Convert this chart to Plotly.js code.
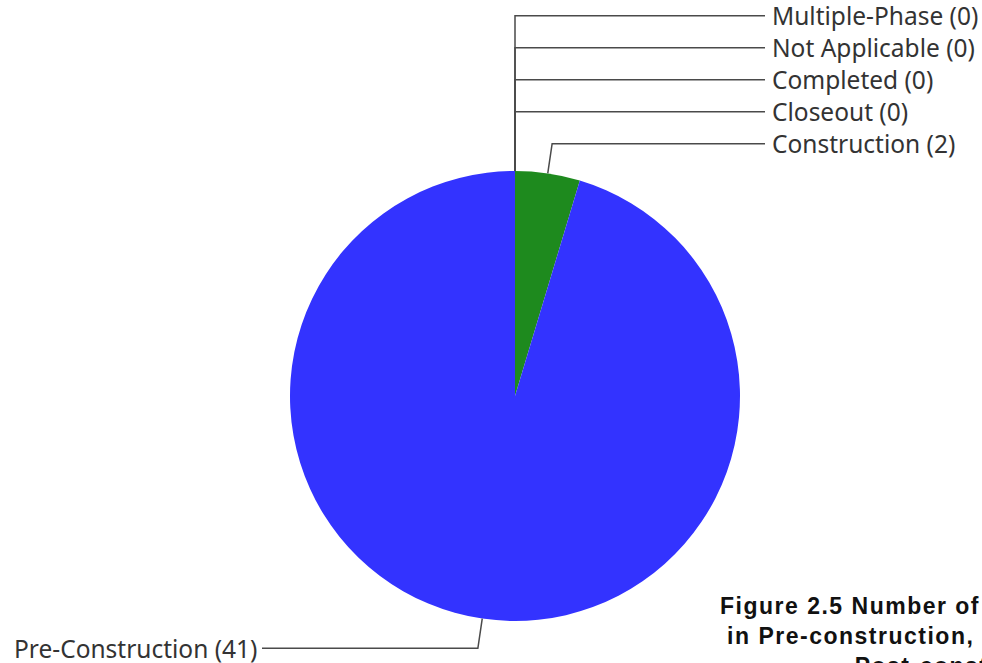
<!DOCTYPE html>
<html>
<head>
<meta charset="utf-8">
<script src="https://cdn.plot.ly/plotly-3.0.1.min.js"></script>
<style>html,body{margin:0;padding:0;background:#fff;overflow:hidden}#chart{width:982px;height:663px}</style>
</head>
<body>
<div id="chart"></div>
<script>
// ---- data ----
const phaseLabels = ['Multiple-Phase', 'Not Applicable', 'Completed', 'Closeout', 'Construction', 'Pre-Construction'];
const phaseCounts = [0, 0, 0, 0, 2, 41];
const phaseColors = ['#8c8c8c', '#b0b0b0', '#ff9900', '#cc3333', '#1e8a1e', '#3333ff'];
const titleLines = ['Figure 2.5 Number of Projects by Phase', 'in Pre-construction, Construction, and', 'Post-construction'];

// ---- geometry (pixels) ----
const W = 982, H = 663;
const cx = 515, cy = 396, R = 225;
const elbowLen = 30, labelGap = 32;
const rightLineEnd = 765, leftLineEnd = 262;

const px = x => x / W;
const py = y => 1 - y / H;

const total = phaseCounts.reduce((a, b) => a + b, 0);
let cum = 0;
const info = phaseCounts.map((v, i) => {
  const mid = (cum + v / 2) / total * 2 * Math.PI;
  cum += v;
  const s = Math.sin(mid), c = Math.cos(mid);
  const ax = cx + R * s, ay = cy - R * c;
  return {i, ax, ay, ex: ax + elbowLen * s, ey: ay - elbowLen * c, right: s >= -1e-9};
});

// resolve label collisions on the right side (stack upwards)
const rightSide = info.filter(d => d.right);
let prevY = Infinity;
for (let k = rightSide.length - 1; k >= 0; k--) {
  const d = rightSide[k];
  d.ly = Math.min(d.ey, prevY - labelGap);
  prevY = d.ly;
}
info.filter(d => !d.right).forEach(d => { d.ly = d.ey; });

const shapes = [], annotations = [];
info.forEach(d => {
  const endX = d.right ? rightLineEnd : leftLineEnd;
  const ex = phaseCounts[d.i] === 0 ? d.ax : d.ex;
  shapes.push({
    type: 'path', xref: 'paper', yref: 'paper',
    path: `M ${px(d.ax)} ${py(d.ay)} L ${px(ex)} ${py(d.ly)} L ${px(endX)} ${py(d.ly)}`,
    line: {color: '#4a4a4a', width: 1.5}
  });
  annotations.push({
    xref: 'paper', yref: 'paper', showarrow: false,
    x: px(d.right ? endX + 5 : endX - 3), y: py(d.ly),
    xanchor: d.right ? 'left' : 'right', yanchor: 'middle',
    text: `${phaseLabels[d.i]} (${phaseCounts[d.i]})`,
    font: {family: 'Noto Sans, Open Sans, sans-serif', size: 24.5, color: '#333333'}
  });
});

annotations.push({
  xref: 'paper', yref: 'paper', showarrow: false,
  x: px(966), y: py(591), xanchor: 'center', yanchor: 'top', align: 'center',
  text: titleLines.map(t => '<span style="letter-spacing:1.5px"><b>' + t + '</b></span>').join('<br>'),
  font: {family: 'Liberation Sans, Arial, sans-serif', size: 23, color: '#111111'}
});

const trace = {
  type: 'pie',
  labels: phaseLabels,
  values: phaseCounts,
  marker: {colors: phaseColors, line: {width: 0}},
  sort: false,
  direction: 'clockwise',
  rotation: 0,
  textinfo: 'none',
  hoverinfo: 'label+value',
  showlegend: false,
  domain: {x: [px(cx - R), px(cx + R)], y: [py(cy + R), py(cy - R)]}
};

Plotly.newPlot('chart', [trace], {
  width: W, height: H,
  margin: {l: 0, r: 0, t: 0, b: 0},
  paper_bgcolor: '#ffffff',
  showlegend: false,
  shapes: shapes,
  annotations: annotations
}, {displayModeBar: false, staticPlot: true});
</script>
</body>
</html>
